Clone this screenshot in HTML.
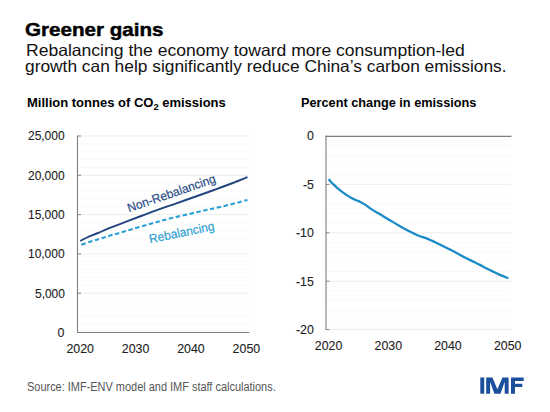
<!DOCTYPE html>
<html><head><meta charset="utf-8">
<style>
html,body{margin:0;padding:0;background:#fff;}
body{width:550px;height:412px;position:relative;overflow:hidden;font-family:"Liberation Sans",sans-serif;}
.t{position:absolute;white-space:nowrap;line-height:1;transform-origin:0 0;}
svg{position:absolute;left:0;top:0;}
</style></head>
<body>
<svg width="550" height="412">
<line x1="77.5" y1="324.64" x2="249" y2="324.64" stroke="#f9f9f6" stroke-width="1"/>
<line x1="77.5" y1="316.78" x2="249" y2="316.78" stroke="#f9f9f6" stroke-width="1"/>
<line x1="77.5" y1="308.92" x2="249" y2="308.92" stroke="#f9f9f6" stroke-width="1"/>
<line x1="77.5" y1="301.06" x2="249" y2="301.06" stroke="#f9f9f6" stroke-width="1"/>
<line x1="77.5" y1="293.20" x2="249" y2="293.20" stroke="#ededea" stroke-width="1"/>
<line x1="77.5" y1="293.20" x2="81.0" y2="293.20" stroke="#888" stroke-width="1"/>
<line x1="77.5" y1="285.34" x2="249" y2="285.34" stroke="#f9f9f6" stroke-width="1"/>
<line x1="77.5" y1="277.48" x2="249" y2="277.48" stroke="#f9f9f6" stroke-width="1"/>
<line x1="77.5" y1="269.62" x2="249" y2="269.62" stroke="#f9f9f6" stroke-width="1"/>
<line x1="77.5" y1="261.76" x2="249" y2="261.76" stroke="#f9f9f6" stroke-width="1"/>
<line x1="77.5" y1="253.90" x2="249" y2="253.90" stroke="#ededea" stroke-width="1"/>
<line x1="77.5" y1="253.90" x2="81.0" y2="253.90" stroke="#888" stroke-width="1"/>
<line x1="77.5" y1="246.04" x2="249" y2="246.04" stroke="#f9f9f6" stroke-width="1"/>
<line x1="77.5" y1="238.18" x2="249" y2="238.18" stroke="#f9f9f6" stroke-width="1"/>
<line x1="77.5" y1="230.32" x2="249" y2="230.32" stroke="#f9f9f6" stroke-width="1"/>
<line x1="77.5" y1="222.46" x2="249" y2="222.46" stroke="#f9f9f6" stroke-width="1"/>
<line x1="77.5" y1="214.60" x2="249" y2="214.60" stroke="#ededea" stroke-width="1"/>
<line x1="77.5" y1="214.60" x2="81.0" y2="214.60" stroke="#888" stroke-width="1"/>
<line x1="77.5" y1="206.74" x2="249" y2="206.74" stroke="#f9f9f6" stroke-width="1"/>
<line x1="77.5" y1="198.88" x2="249" y2="198.88" stroke="#f9f9f6" stroke-width="1"/>
<line x1="77.5" y1="191.02" x2="249" y2="191.02" stroke="#f9f9f6" stroke-width="1"/>
<line x1="77.5" y1="183.16" x2="249" y2="183.16" stroke="#f9f9f6" stroke-width="1"/>
<line x1="77.5" y1="175.30" x2="249" y2="175.30" stroke="#ededea" stroke-width="1"/>
<line x1="77.5" y1="175.30" x2="81.0" y2="175.30" stroke="#888" stroke-width="1"/>
<line x1="77.5" y1="167.44" x2="249" y2="167.44" stroke="#f9f9f6" stroke-width="1"/>
<line x1="77.5" y1="159.58" x2="249" y2="159.58" stroke="#f9f9f6" stroke-width="1"/>
<line x1="77.5" y1="151.72" x2="249" y2="151.72" stroke="#f9f9f6" stroke-width="1"/>
<line x1="77.5" y1="143.86" x2="249" y2="143.86" stroke="#f9f9f6" stroke-width="1"/>
<line x1="77.5" y1="136.00" x2="249" y2="136.00" stroke="#ededea" stroke-width="1"/>
<line x1="77.5" y1="136.00" x2="81.0" y2="136.00" stroke="#888" stroke-width="1"/>
<line x1="77.5" y1="135.5" x2="77.5" y2="333.0" stroke="#7d7d7d" stroke-width="1.1"/>
<line x1="77.0" y1="332.5" x2="249.5" y2="332.5" stroke="#7d7d7d" stroke-width="1.1"/>
<path d="M80.3,240.9 C81.42,240.33 84.05,238.82 87,237.5 C89.95,236.18 94.50,234.47 98,233 C101.50,231.53 104.67,230.07 108,228.7 C111.33,227.33 114.75,226.05 118,224.8 C121.25,223.55 123.33,222.78 127.5,221.2 C131.67,219.62 137.42,217.38 143,215.3 C148.58,213.22 155.67,210.62 161,208.7 C166.33,206.78 168.50,206.08 175,203.8 C181.50,201.52 193.10,197.45 200,195 C206.90,192.55 210.93,191.10 216.4,189.1 C221.87,187.10 227.62,184.98 232.8,183 C237.98,181.02 245.05,178.17 247.5,177.2" fill="none" stroke="#21447f" stroke-width="1.9" stroke-linejoin="round"/>
<path d="M80.3,245 C82.33,244.33 88.95,242.12 92.5,241 C96.05,239.88 97.95,239.42 101.6,238.3 C105.25,237.18 110.08,235.58 114.4,234.3 C118.72,233.02 121.57,232.32 127.5,230.6 C133.43,228.88 142.92,226.02 150,224 C157.08,221.98 161.67,220.58 170,218.5 C178.33,216.42 191.37,213.48 200,211.5 C208.63,209.52 213.88,208.52 221.8,206.6 C229.72,204.68 243.22,201.10 247.5,200" fill="none" stroke="#2aa0d6" stroke-width="2.1" stroke-dasharray="4.5 2.52" stroke-dashoffset="-1.2"/>
<line x1="326" y1="145.68" x2="511.5" y2="145.68" stroke="#f9f9f6" stroke-width="1"/>
<line x1="326" y1="155.36" x2="511.5" y2="155.36" stroke="#f9f9f6" stroke-width="1"/>
<line x1="326" y1="165.04" x2="511.5" y2="165.04" stroke="#f9f9f6" stroke-width="1"/>
<line x1="326" y1="174.72" x2="511.5" y2="174.72" stroke="#f9f9f6" stroke-width="1"/>
<line x1="326" y1="184.40" x2="511.5" y2="184.40" stroke="#ededea" stroke-width="1"/>
<line x1="326" y1="184.40" x2="329.5" y2="184.40" stroke="#888" stroke-width="1"/>
<line x1="326" y1="194.08" x2="511.5" y2="194.08" stroke="#f9f9f6" stroke-width="1"/>
<line x1="326" y1="203.76" x2="511.5" y2="203.76" stroke="#f9f9f6" stroke-width="1"/>
<line x1="326" y1="213.44" x2="511.5" y2="213.44" stroke="#f9f9f6" stroke-width="1"/>
<line x1="326" y1="223.12" x2="511.5" y2="223.12" stroke="#f9f9f6" stroke-width="1"/>
<line x1="326" y1="232.80" x2="511.5" y2="232.80" stroke="#ededea" stroke-width="1"/>
<line x1="326" y1="232.80" x2="329.5" y2="232.80" stroke="#888" stroke-width="1"/>
<line x1="326" y1="242.48" x2="511.5" y2="242.48" stroke="#f9f9f6" stroke-width="1"/>
<line x1="326" y1="252.16" x2="511.5" y2="252.16" stroke="#f9f9f6" stroke-width="1"/>
<line x1="326" y1="261.84" x2="511.5" y2="261.84" stroke="#f9f9f6" stroke-width="1"/>
<line x1="326" y1="271.52" x2="511.5" y2="271.52" stroke="#f9f9f6" stroke-width="1"/>
<line x1="326" y1="281.20" x2="511.5" y2="281.20" stroke="#ededea" stroke-width="1"/>
<line x1="326" y1="281.20" x2="329.5" y2="281.20" stroke="#888" stroke-width="1"/>
<line x1="326" y1="290.88" x2="511.5" y2="290.88" stroke="#f9f9f6" stroke-width="1"/>
<line x1="326" y1="300.56" x2="511.5" y2="300.56" stroke="#f9f9f6" stroke-width="1"/>
<line x1="326" y1="310.24" x2="511.5" y2="310.24" stroke="#f9f9f6" stroke-width="1"/>
<line x1="326" y1="319.92" x2="511.5" y2="319.92" stroke="#f9f9f6" stroke-width="1"/>
<line x1="326" y1="329.60" x2="511.5" y2="329.60" stroke="#ededea" stroke-width="1"/>
<line x1="326" y1="329.60" x2="329.5" y2="329.60" stroke="#888" stroke-width="1"/>
<line x1="326" y1="135.5" x2="326" y2="330.1" stroke="#7d7d7d" stroke-width="1.1"/>
<line x1="325.5" y1="136.4" x2="511.5" y2="136.4" stroke="#7d7d7d" stroke-width="1.1"/>
<path d="M328.7,179.1 C329.08,179.57 330.20,181.02 331,181.9 C331.80,182.78 332.67,183.58 333.5,184.4 C334.33,185.22 335.10,185.98 336,186.8 C336.90,187.62 337.93,188.48 338.9,189.3 C339.87,190.12 340.83,190.97 341.8,191.7 C342.77,192.43 343.73,193.05 344.7,193.7 C345.67,194.35 346.62,194.98 347.6,195.6 C348.58,196.22 349.62,196.85 350.6,197.4 C351.58,197.95 352.53,198.42 353.5,198.9 C354.47,199.38 355.43,199.87 356.4,200.3 C357.37,200.73 358.33,201.07 359.3,201.5 C360.27,201.93 361.23,202.38 362.2,202.9 C363.17,203.42 364.18,204.00 365.1,204.6 C366.02,205.20 366.47,205.62 367.7,206.5 C368.93,207.38 370.50,208.63 372.5,209.9 C374.50,211.17 376.88,212.43 379.7,214.1 C382.52,215.77 386.17,217.97 389.4,219.9 C392.63,221.83 395.87,223.83 399.1,225.7 C402.33,227.57 405.65,229.47 408.8,231.1 C411.95,232.73 414.95,234.25 418,235.5 C421.05,236.75 424.07,237.40 427.1,238.6 C430.13,239.80 433.17,241.25 436.2,242.7 C439.23,244.15 442.27,245.78 445.3,247.3 C448.33,248.82 451.12,250.10 454.4,251.8 C457.68,253.50 461.72,255.80 465,257.5 C468.28,259.20 471.60,260.77 474.1,262 C476.60,263.23 477.97,263.87 480,264.9 C482.03,265.93 484.20,267.12 486.3,268.2 C488.40,269.28 490.50,270.37 492.6,271.4 C494.70,272.43 496.27,273.25 498.9,274.4 C501.53,275.55 506.82,277.65 508.4,278.3" fill="none" stroke="#1a8bc6" stroke-width="2.3" stroke-linejoin="round"/>
<rect x="480.3" y="377.5" width="3.9" height="16.2" fill="#1b4f9b"/>
<path d="M486.2 393.7 V377.5 H492.4 L497.4 389.2 L502.4 377.5 H508.6 V393.7 H504.7 V381.8 L500.4 393.7 H494.4 L490.1 381.8 V393.7 Z" fill="#1b4f9b"/>
<path d="M511 393.7 V377.5 H523.7 V381 H515 V383.8 H522.3 V387.1 H515 V393.7 Z" fill="#1b4f9b"/>
</svg>
<div class="t" style="left:25.09px;top:21px;font-size:18.5px;font-weight:bold;color:#000;transform:scaleX(1.1130);-webkit-text-stroke:0.45px #000;">Greener gains</div>
<div class="t" style="left:26.04px;top:42px;font-size:16.5px;font-weight:normal;color:#111;transform:scaleX(1.0630);">Rebalancing the economy toward more consumption-led</div>
<div class="t" style="left:25.25px;top:58px;font-size:16.5px;font-weight:normal;color:#111;transform:scaleX(1.0507);">growth can help significantly reduce China’s carbon emissions.</div>
<div class="t" style="left:26.96px;top:97px;font-size:12.5px;font-weight:bold;color:#000;transform:scaleX(1.0400);">Million tonnes of CO<span style="font-size:9px;position:relative;top:3px">2</span> emissions</div>
<div class="t" style="left:300.88px;top:97px;font-size:12.5px;font-weight:bold;color:#000;transform:scaleX(1.0181);">Percent change in emissions</div>
<div class="t" style="left:57.60px;top:327px;font-size:12.4px;font-weight:normal;color:#222;transform:scaleX(1.0000);-webkit-text-stroke:0.1px #222;">0</div>
<div class="t" style="left:34.68px;top:288px;font-size:12.4px;font-weight:normal;color:#222;transform:scaleX(0.9650);-webkit-text-stroke:0.1px #222;">5,000</div>
<div class="t" style="left:27.93px;top:248px;font-size:12.4px;font-weight:normal;color:#222;transform:scaleX(0.9650);-webkit-text-stroke:0.1px #222;">10,000</div>
<div class="t" style="left:27.93px;top:209px;font-size:12.4px;font-weight:normal;color:#222;transform:scaleX(0.9650);-webkit-text-stroke:0.1px #222;">15,000</div>
<div class="t" style="left:27.93px;top:170px;font-size:12.4px;font-weight:normal;color:#222;transform:scaleX(0.9650);-webkit-text-stroke:0.1px #222;">20,000</div>
<div class="t" style="left:27.93px;top:130px;font-size:12.4px;font-weight:normal;color:#222;transform:scaleX(0.9650);-webkit-text-stroke:0.1px #222;">25,000</div>
<div class="t" style="left:66.40px;top:343px;font-size:12.4px;font-weight:normal;color:#222;transform:scaleX(1.0000);-webkit-text-stroke:0.1px #222;">2020</div>
<div class="t" style="left:121.80px;top:343px;font-size:12.4px;font-weight:normal;color:#222;transform:scaleX(1.0000);-webkit-text-stroke:0.1px #222;">2030</div>
<div class="t" style="left:177.20px;top:343px;font-size:12.4px;font-weight:normal;color:#222;transform:scaleX(1.0000);-webkit-text-stroke:0.1px #222;">2040</div>
<div class="t" style="left:232.60px;top:343px;font-size:12.4px;font-weight:normal;color:#222;transform:scaleX(1.0000);-webkit-text-stroke:0.1px #222;">2050</div>
<div class="t" style="left:306.90px;top:130px;font-size:12.4px;font-weight:normal;color:#222;transform:scaleX(1.0000);-webkit-text-stroke:0.1px #222;">0</div>
<div class="t" style="left:302.90px;top:179px;font-size:12.4px;font-weight:normal;color:#222;transform:scaleX(1.0000);-webkit-text-stroke:0.1px #222;">-5</div>
<div class="t" style="left:295.90px;top:227px;font-size:12.4px;font-weight:normal;color:#222;transform:scaleX(1.0000);-webkit-text-stroke:0.1px #222;">-10</div>
<div class="t" style="left:295.90px;top:276px;font-size:12.4px;font-weight:normal;color:#222;transform:scaleX(1.0000);-webkit-text-stroke:0.1px #222;">-15</div>
<div class="t" style="left:295.90px;top:324px;font-size:12.4px;font-weight:normal;color:#222;transform:scaleX(1.0000);-webkit-text-stroke:0.1px #222;">-20</div>
<div class="t" style="left:314.80px;top:340px;font-size:12.4px;font-weight:normal;color:#222;transform:scaleX(1.0000);-webkit-text-stroke:0.1px #222;">2020</div>
<div class="t" style="left:374.50px;top:340px;font-size:12.4px;font-weight:normal;color:#222;transform:scaleX(1.0000);-webkit-text-stroke:0.1px #222;">2030</div>
<div class="t" style="left:434.20px;top:340px;font-size:12.4px;font-weight:normal;color:#222;transform:scaleX(1.0000);-webkit-text-stroke:0.1px #222;">2040</div>
<div class="t" style="left:493.90px;top:340px;font-size:12.4px;font-weight:normal;color:#222;transform:scaleX(1.0000);-webkit-text-stroke:0.1px #222;">2050</div>
<div class="t" style="left:27.19px;top:381px;font-size:12px;font-weight:normal;color:#555;transform:scaleX(0.9125);">Source: IMF-ENV model and IMF staff calculations.</div>
<div class="t" style="left:129.00px;top:201.60px;font-size:12.3px;font-weight:normal;color:#2a4c88;transform-origin:1px 10px;transform:rotate(-19deg) scaleX(0.9734);-webkit-text-stroke:0.2px #2a4c88;">Non-Rebalancing</div>
<div class="t" style="left:150.20px;top:232.60px;font-size:12.3px;font-weight:normal;color:#2e9fd4;transform-origin:1px 10px;transform:rotate(-11.5deg) scaleX(0.9701);-webkit-text-stroke:0.2px #2e9fd4;">Rebalancing</div>
</body></html>
